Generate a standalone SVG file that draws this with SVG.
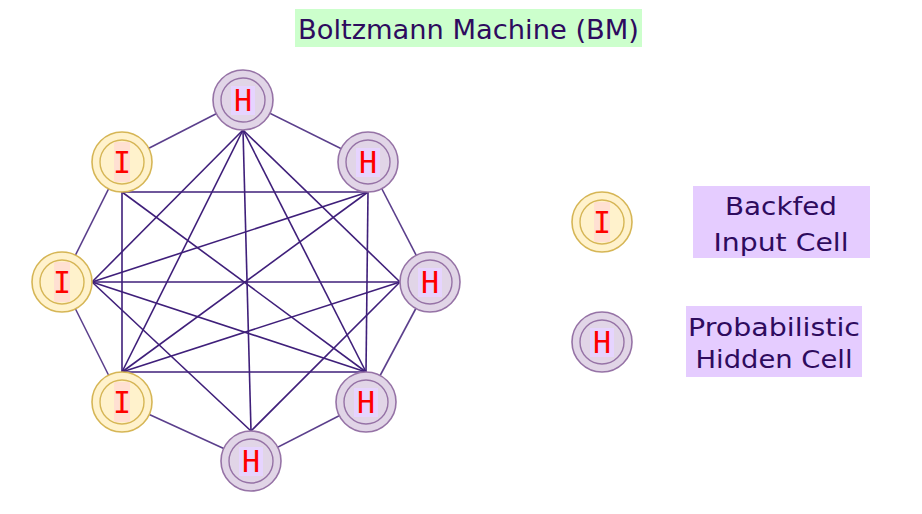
<svg xmlns="http://www.w3.org/2000/svg" width="922" height="514" viewBox="0 0 922 514">
<defs>
<style>
.bg{fill:#ffffff}
.ring{stroke:#5b3f8c;stroke-width:1.6;fill:none}
.edge{stroke:#3f1f7a;stroke-width:1.6;fill:none}
.io{fill:#fff2cc;stroke:#d6b656;stroke-width:1.6}
.ii{fill:none;stroke:#d6b656;stroke-width:1.4}
.ho{fill:#e1d5e7;stroke:#9673a6;stroke-width:1.6}
.hi{fill:none;stroke:#9673a6;stroke-width:1.4}
.ihl{fill:#ffe0d2}
.hhl{fill:#e6d4ff}
.let{font-family:"DejaVu Sans Mono","Liberation Mono",monospace;font-size:30px;fill:#ff0000;text-anchor:middle}
.lbl{font-family:"DejaVu Sans","Liberation Sans",sans-serif;font-size:25px;fill:#2e0b5e;text-anchor:middle}
.lblbox{fill:#e5ccff}
.title{font-family:"DejaVu Sans","Liberation Sans",sans-serif;font-size:26px;fill:#2e0b5e}
</style>
</defs>
<rect class="bg" x="0" y="0" width="922" height="514"/>
<g id="title">
<rect x="295" y="9" width="347" height="38" fill="#ccffcc"/>
<text class="title" x="298" y="39" textLength="341" lengthAdjust="spacingAndGlyphs">Boltzmann Machine (BM)</text>
</g>
<g id="connectors">
<g class="ring">
<line x1="243" y1="100" x2="368" y2="162"/>
<line x1="368" y1="162" x2="430" y2="282"/>
<line x1="430" y1="282" x2="366" y2="402"/>
<line x1="366" y1="402" x2="251" y2="461"/>
<line x1="251" y1="461" x2="122" y2="402"/>
<line x1="122" y1="402" x2="62" y2="282"/>
<line x1="62" y1="282" x2="122" y2="162"/>
<line x1="122" y1="162" x2="243" y2="100"/>
</g>
<g class="edge">
<line x1="243" y1="130" x2="400" y2="282"/>
<line x1="243" y1="130" x2="366" y2="372"/>
<line x1="243" y1="130" x2="251" y2="431"/>
<line x1="243" y1="130" x2="122" y2="372"/>
<line x1="243" y1="130" x2="92" y2="282"/>
<line x1="368" y1="192" x2="366" y2="372"/>
<line x1="368" y1="192" x2="122" y2="372"/>
<line x1="368" y1="192" x2="92" y2="282"/>
<line x1="368" y1="192" x2="122" y2="192"/>
<line x1="400" y1="282" x2="251" y2="431"/>
<line x1="400" y1="282" x2="122" y2="372"/>
<line x1="400" y1="282" x2="92" y2="282"/>
<line x1="366" y1="372" x2="122" y2="372"/>
<line x1="366" y1="372" x2="92" y2="282"/>
<line x1="366" y1="372" x2="122" y2="192"/>
<line x1="251" y1="431" x2="92" y2="282"/>
<line x1="122" y1="372" x2="122" y2="192"/>
</g>
</g>
<g id="h-top">
<circle class="ho" cx="243" cy="100" r="30"/>
<circle class="hi" cx="243" cy="100" r="22"/>
<rect class="hhl" x="231" y="86" width="24" height="29"/>
<text class="let" x="243" y="111">H</text>
</g>
<g id="h-topright">
<circle class="ho" cx="368" cy="162" r="30"/>
<circle class="hi" cx="368" cy="162" r="22"/>
<rect class="hhl" x="356" y="148" width="24" height="29"/>
<text class="let" x="368" y="173">H</text>
</g>
<g id="h-right">
<circle class="ho" cx="430" cy="282" r="30"/>
<circle class="hi" cx="430" cy="282" r="22"/>
<rect class="hhl" x="418" y="268" width="24" height="29"/>
<text class="let" x="430" y="293">H</text>
</g>
<g id="h-bottomright">
<circle class="ho" cx="366" cy="402" r="30"/>
<circle class="hi" cx="366" cy="402" r="22"/>
<rect class="hhl" x="354" y="388" width="24" height="29"/>
<text class="let" x="366" y="413">H</text>
</g>
<g id="h-bottom">
<circle class="ho" cx="251" cy="461" r="30"/>
<circle class="hi" cx="251" cy="461" r="22"/>
<rect class="hhl" x="239" y="447" width="24" height="29"/>
<text class="let" x="251" y="472">H</text>
</g>
<g id="i-bottomleft">
<circle class="io" cx="122" cy="402" r="30"/>
<circle class="ii" cx="122" cy="402" r="22"/>
<rect class="ihl" x="114" y="382" width="16" height="40"/>
<text class="let" x="122" y="413">I</text>
</g>
<g id="i-left">
<circle class="io" cx="62" cy="282" r="30"/>
<circle class="ii" cx="62" cy="282" r="22"/>
<rect class="ihl" x="54" y="262" width="16" height="40"/>
<text class="let" x="62" y="293">I</text>
</g>
<g id="i-topleft">
<circle class="io" cx="122" cy="162" r="30"/>
<circle class="ii" cx="122" cy="162" r="22"/>
<rect class="ihl" x="114" y="142" width="16" height="40"/>
<text class="let" x="122" y="173">I</text>
</g>
<g id="legend-input">
<circle class="io" cx="602" cy="222" r="30"/>
<circle class="ii" cx="602" cy="222" r="22"/>
<rect class="ihl" x="594" y="202" width="16" height="40"/>
<text class="let" x="602" y="233">I</text>
<rect class="lblbox" x="693" y="186" width="177" height="72"/>
<text class="lbl" x="781" y="215" textLength="112" lengthAdjust="spacingAndGlyphs">Backfed</text>
<text class="lbl" x="781" y="251" textLength="135" lengthAdjust="spacingAndGlyphs">Input Cell</text>
</g>
<g id="legend-hidden">
<circle class="ho" cx="602" cy="342" r="30"/>
<circle class="hi" cx="602" cy="342" r="22"/>
<rect class="hhl" x="590" y="328" width="24" height="29"/>
<text class="let" x="602" y="353">H</text>
<rect class="lblbox" x="686" y="306" width="176" height="71"/>
<text class="lbl" x="774" y="336" textLength="172" lengthAdjust="spacingAndGlyphs">Probabilistic</text>
<text class="lbl" x="774" y="368" textLength="157" lengthAdjust="spacingAndGlyphs">Hidden Cell</text>
</g>
</svg>
